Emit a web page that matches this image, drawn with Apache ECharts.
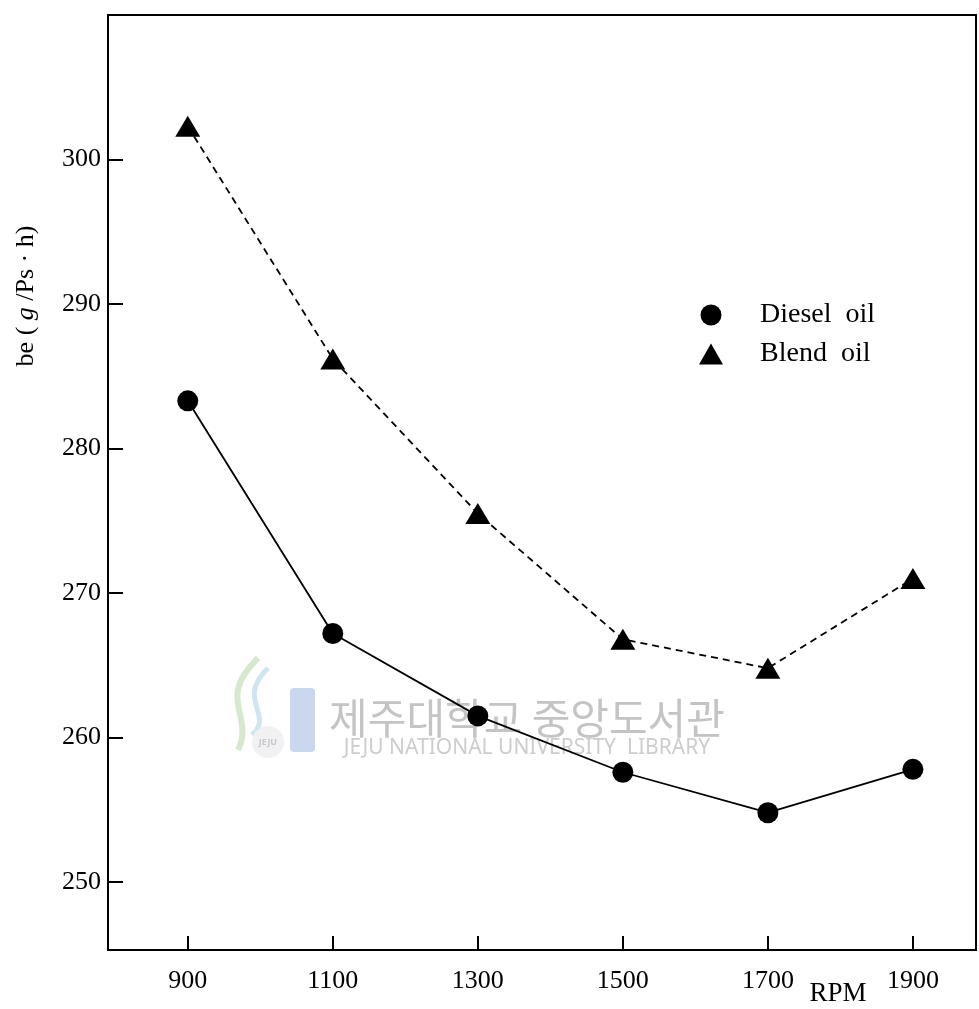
<!DOCTYPE html>
<html>
<head>
<meta charset="utf-8">
<script src="https://cdn.jsdelivr.net/npm/echarts@6/dist/echarts.min.js"></script>
<style>
  html, body { margin: 0; padding: 0; background: #fff; }
  #container { width: 979px; height: 1009px; }
</style>
</head>
<body>
<div id="container"></div>
<script>
// 연료별 연료소비율 (be) vs RPM
var rpm = [900, 1100, 1300, 1500, 1700, 1900];
var dieselOil = [283.3, 267.2, 261.5, 257.6, 254.8, 257.8];
var blendOil = [302.3, 286.2, 275.5, 266.8, 264.8, 271.0];
var xTicks = [900, 1100, 1300, 1500, 1700, 1900];
var yTicks = [250, 260, 270, 280, 290, 300];

var pairs = (ys) => rpm.map((x, i) => [x, ys[i]]);

var dom = document.getElementById("container");
var myChart = echarts.init(dom);
var serif = '"Liberation Serif", "DejaVu Serif", serif';

var option = {
  backgroundColor: '#fff',
  animation: false,
  grid: {
    left: 108, top: 15, right: 3, bottom: 59,
    show: true, borderColor: '#000', borderWidth: 2
  },
  legend: {
    orient: 'vertical',
    left: 694, top: 296,
    itemWidth: 24, itemHeight: 21,
    itemGap: 11,
    data: [
      { name: 'Diesel oil', icon: 'circle' },
      { name: 'Blend oil', icon: 'triangle' }
    ],
    formatter: (n) => n.replace(' ', '  '),
    textStyle: { fontFamily: serif, fontSize: 28, color: '#000', padding: [0, 0, 0, 32] }
  },
  xAxis: {
    type: 'value',
    min: 790, max: 1987,
    axisLine: { lineStyle: { color: '#000', width: 2 } },
    axisTick: { inside: true, length: 14, customValues: xTicks, lineStyle: { color: '#000', width: 2 } },
    axisLabel: { customValues: xTicks, formatter: (v) => String(v), fontFamily: serif, fontSize: 26, color: '#000', margin: 18 },
    splitLine: { show: false }
  },
  yAxis: {
    type: 'value',
    min: 245.3, max: 310,
    axisLine: { lineStyle: { color: '#000', width: 2 } },
    axisTick: { inside: true, length: 15, customValues: yTicks, lineStyle: { color: '#000', width: 2 } },
    axisLabel: { customValues: yTicks, formatter: (v) => String(v), fontFamily: serif, fontSize: 26, color: '#000', margin: 7 },
    splitLine: { show: false }
  },
  graphic: [
    {
      type: 'text', x: 26, y: 296, rotation: Math.PI / 2,
      style: {
        text: 'be ( {i|g} /Ps · h)',
        fontFamily: serif, fontSize: 26, fill: '#000',
        align: 'center', verticalAlign: 'middle',
        rich: { i: { fontStyle: 'italic', fontFamily: serif, fontSize: 26 } }
      }
    },
    {
      type: 'text', x: 838, y: 994,
      style: { text: 'RPM', fontFamily: serif, fontSize: 27, fill: '#000', align: 'center', verticalAlign: 'middle' }
    },
    // watermark logo (rough)
    {
      type: 'group', z: -1,
      children: [
        { type: 'rect', shape: { x: 290, y: 688, width: 25, height: 64, r: 4 }, style: { fill: '#cbd7ee' } },
        { type: 'bezierCurve', shape: { x1: 258, y1: 658, x2: 238, y2: 750, cpx1: 215, cpy1: 700, cpx2: 255, cpy2: 715 }, style: { stroke: '#d6e8ce', lineWidth: 6, fill: null } },
        { type: 'bezierCurve', shape: { x1: 268, y1: 668, x2: 252, y2: 735, cpx1: 235, cpy1: 700, cpx2: 275, cpy2: 715 }, style: { stroke: '#cfe5f0', lineWidth: 5, fill: null } },
        { type: 'circle', shape: { cx: 268, cy: 742, r: 16 }, style: { fill: '#f1f1f3' } },
        { type: 'text', x: 268, y: 742, style: { text: 'JEJU', fontFamily: '"Noto Sans", sans-serif', fontSize: 9, fontWeight: 'bold', fill: '#c8c8c8', align: 'center', verticalAlign: 'middle' } }
      ]
    },
    {
      type: 'text', x: 527, y: 718, z: -1,
      style: { text: '제주대학교 중앙도서관', fontFamily: '"Noto Sans CJK KR"', fontSize: 42, fill: '#c4c4c4', align: 'center', verticalAlign: 'middle' }
    },
    {
      type: 'text', x: 527, y: 748, z: -1,
      style: { text: 'JEJU NATIONAL UNIVERSITY  LIBRARY', fontFamily: '"Noto Sans", sans-serif', fontSize: 21, fill: '#cdcdcd', align: 'center', verticalAlign: 'middle' }
    }
  ],
  series: [
    {
      name: 'Diesel oil',
      type: 'line',
      data: pairs(dieselOil),
      symbol: 'circle', symbolSize: 21,
      itemStyle: { color: '#000' },
      lineStyle: { color: '#000', width: 1.8 },
      z: 3
    },
    {
      name: 'Blend oil',
      type: 'line',
      data: pairs(blendOil),
      symbol: 'triangle', symbolSize: [25, 21],
      itemStyle: { color: '#000' },
      lineStyle: { color: '#000', width: 1.8, type: [7, 5] },
      z: 3
    }
  ]
};

if (option && typeof option === "object") {
  myChart.setOption(option, true);
}
</script>
</body>
</html>
